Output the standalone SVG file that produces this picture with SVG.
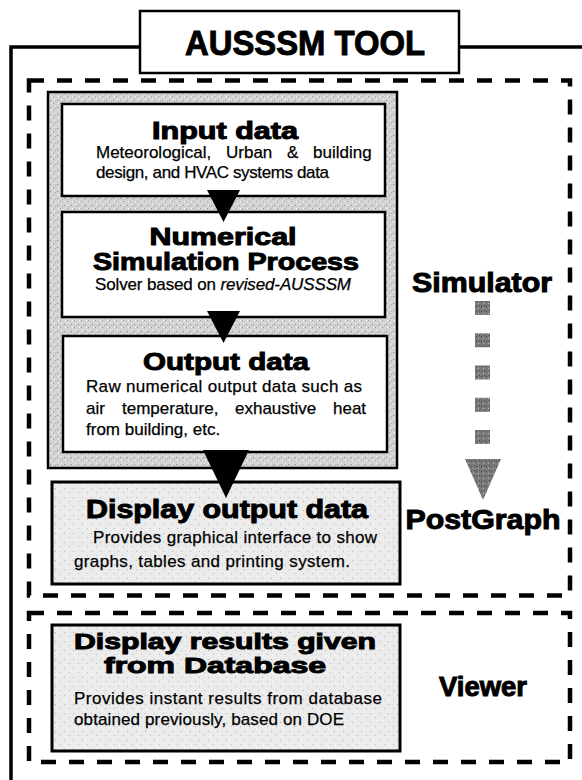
<svg xmlns="http://www.w3.org/2000/svg" width="582" height="780" viewBox="0 0 582 780">
<defs>
<style>
.h{font-family:"Liberation Sans",Arial,sans-serif;font-weight:bold;fill:#000;stroke:#000;stroke-width:1;text-anchor:middle}
.b{font-family:"Liberation Sans",Arial,sans-serif;font-size:17px;fill:#000;stroke:#000;stroke-width:0.25}
.box{fill:#fff;stroke:#000;stroke-width:2.5}
.dash{fill:none;stroke:#000;stroke-width:4.5;stroke-dasharray:15 13}
</style>
<pattern id="stip" width="7" height="7" patternUnits="userSpaceOnUse">
<rect width="7" height="7" fill="#d3d3d3"/>
<rect x="1" y="2" width="1" height="1" fill="#8a8a8a"/>
<rect x="4" y="5" width="1" height="1" fill="#9c9c9c"/>
<rect x="5" y="1" width="1" height="1" fill="#f2f2f2"/>
<rect x="2" y="5" width="1" height="1" fill="#ffffff"/>
<rect x="6" y="3" width="1" height="1" fill="#a8a8a8"/>
</pattern>
<pattern id="stipL" width="9" height="9" patternUnits="userSpaceOnUse">
<rect width="9" height="9" fill="#ebebeb"/>
<rect x="1" y="2" width="1" height="1" fill="#b4b4b4"/>
<rect x="6" y="6" width="1" height="1" fill="#bcbcbc"/>
<rect x="4" y="0" width="1" height="1" fill="#fafafa"/>
<rect x="2" y="7" width="1" height="1" fill="#ffffff"/>
</pattern>
<pattern id="stipD" width="5" height="5" patternUnits="userSpaceOnUse">
<rect width="5" height="5" fill="#7a7a7a"/>
<rect x="1" y="1" width="1" height="1" fill="#404040"/>
<rect x="3" y="3" width="1" height="1" fill="#b8b8b8"/>
<rect x="4" y="0" width="1" height="1" fill="#4a4a4a"/>
</pattern>
</defs>
<rect width="582" height="780" fill="#fff"/>

<g id="frame">
<rect x="11" y="47" width="620" height="800" fill="none" stroke="#000" stroke-width="3.5"/>
<rect class="dash" x="29" y="80.5" width="541" height="515"/>
<rect class="dash" x="29" y="613" width="541" height="149"/>
</g>

<g id="title">
<rect x="140" y="11" width="319" height="62" fill="#fff" stroke="#000" stroke-width="2.5"/>
<text class="h" x="305" y="55" font-size="35" stroke-width="1.3" textLength="240" lengthAdjust="spacingAndGlyphs">AUSSSM TOOL</text>
</g>

<g id="simulator-block">
<rect x="48" y="92" width="349" height="376" fill="url(#stip)" stroke="#000" stroke-width="2.5"/>
</g>

<g id="input-data">
<rect class="box" x="62" y="104" width="323" height="92"/>
<text class="h" x="225" y="139" font-size="23" textLength="146" lengthAdjust="spacingAndGlyphs">Input data</text>
<text class="b" y="158"><tspan x="96">Meteorological,</tspan><tspan x="226">Urban</tspan><tspan x="287">&amp;</tspan><tspan x="313">building</tspan></text>
<text class="b" x="96" y="178" textLength="233" lengthAdjust="spacing">design, and HVAC systems data</text>
</g>

<g id="numerical-simulation">
<rect class="box" x="62" y="212" width="323" height="105"/>
<text class="h" x="223" y="245" font-size="24" textLength="147" lengthAdjust="spacingAndGlyphs">Numerical</text>
<text class="h" x="226" y="270" font-size="24" textLength="266" lengthAdjust="spacingAndGlyphs">Simulation Process</text>
<text class="b" x="95" y="290" textLength="256" lengthAdjust="spacing">Solver based on <tspan font-style="italic">revised-AUSSSM</tspan></text>
</g>

<g id="output-data">
<rect class="box" x="63" y="336" width="324" height="116"/>
<text class="h" x="226" y="370" font-size="24" textLength="166" lengthAdjust="spacingAndGlyphs">Output data</text>
<text class="b" x="86" y="392" textLength="276" lengthAdjust="spacing">Raw numerical output data such as</text>
<text class="b" y="413.5"><tspan x="86">air</tspan><tspan x="122">temperature,</tspan><tspan x="235">exhaustive</tspan><tspan x="333">heat</tspan></text>
<text class="b" x="86" y="435">from building, etc.</text>
</g>

<g id="display-output-data">
<rect x="52" y="482" width="348" height="102" fill="url(#stipL)" stroke="#000" stroke-width="3"/>
<text class="h" x="227" y="518" font-size="25" textLength="282" lengthAdjust="spacingAndGlyphs">Display output data</text>
<text class="b" x="93" y="543" textLength="284" lengthAdjust="spacing">Provides graphical interface to show</text>
<text class="b" x="74" y="567" textLength="276" lengthAdjust="spacing">graphs, tables and printing system.</text>
</g>

<g id="display-results-database">
<rect x="52" y="625" width="348" height="126" fill="url(#stipL)" stroke="#000" stroke-width="3"/>
<text class="h" x="225" y="649" font-size="22" textLength="302" lengthAdjust="spacingAndGlyphs">Display results given</text>
<text class="h" x="215" y="673" font-size="22" textLength="222" lengthAdjust="spacingAndGlyphs">from Database</text>
<text class="b" x="74" y="704" textLength="308" lengthAdjust="spacing">Provides instant results from database</text>
<text class="b" x="74" y="725" textLength="270" lengthAdjust="spacing">obtained previously, based on DOE</text>
</g>

<g id="label-simulator"><text class="h" x="482" y="292" font-size="28" textLength="140" lengthAdjust="spacingAndGlyphs">Simulator</text></g>
<g id="label-postgraph"><text class="h" x="483" y="529" font-size="28" textLength="155" lengthAdjust="spacingAndGlyphs">PostGraph</text></g>
<g id="label-viewer"><text class="h" x="483" y="696" font-size="27" textLength="88" lengthAdjust="spacingAndGlyphs">Viewer</text></g>

<g id="connectors">
<polygon points="207,190 240,190 223.5,222" fill="#000"/>
<polygon points="207,311 240,311 223.5,343" fill="#000"/>
<polygon points="203,450 249,450 226,498" fill="#000"/>
<line x1="482.5" y1="301" x2="482.5" y2="445" stroke="url(#stipD)" stroke-width="15" stroke-dasharray="14 18.25"/>
<polygon points="465,459 501,459 483,500" fill="url(#stipD)"/>
</g>
</svg>
